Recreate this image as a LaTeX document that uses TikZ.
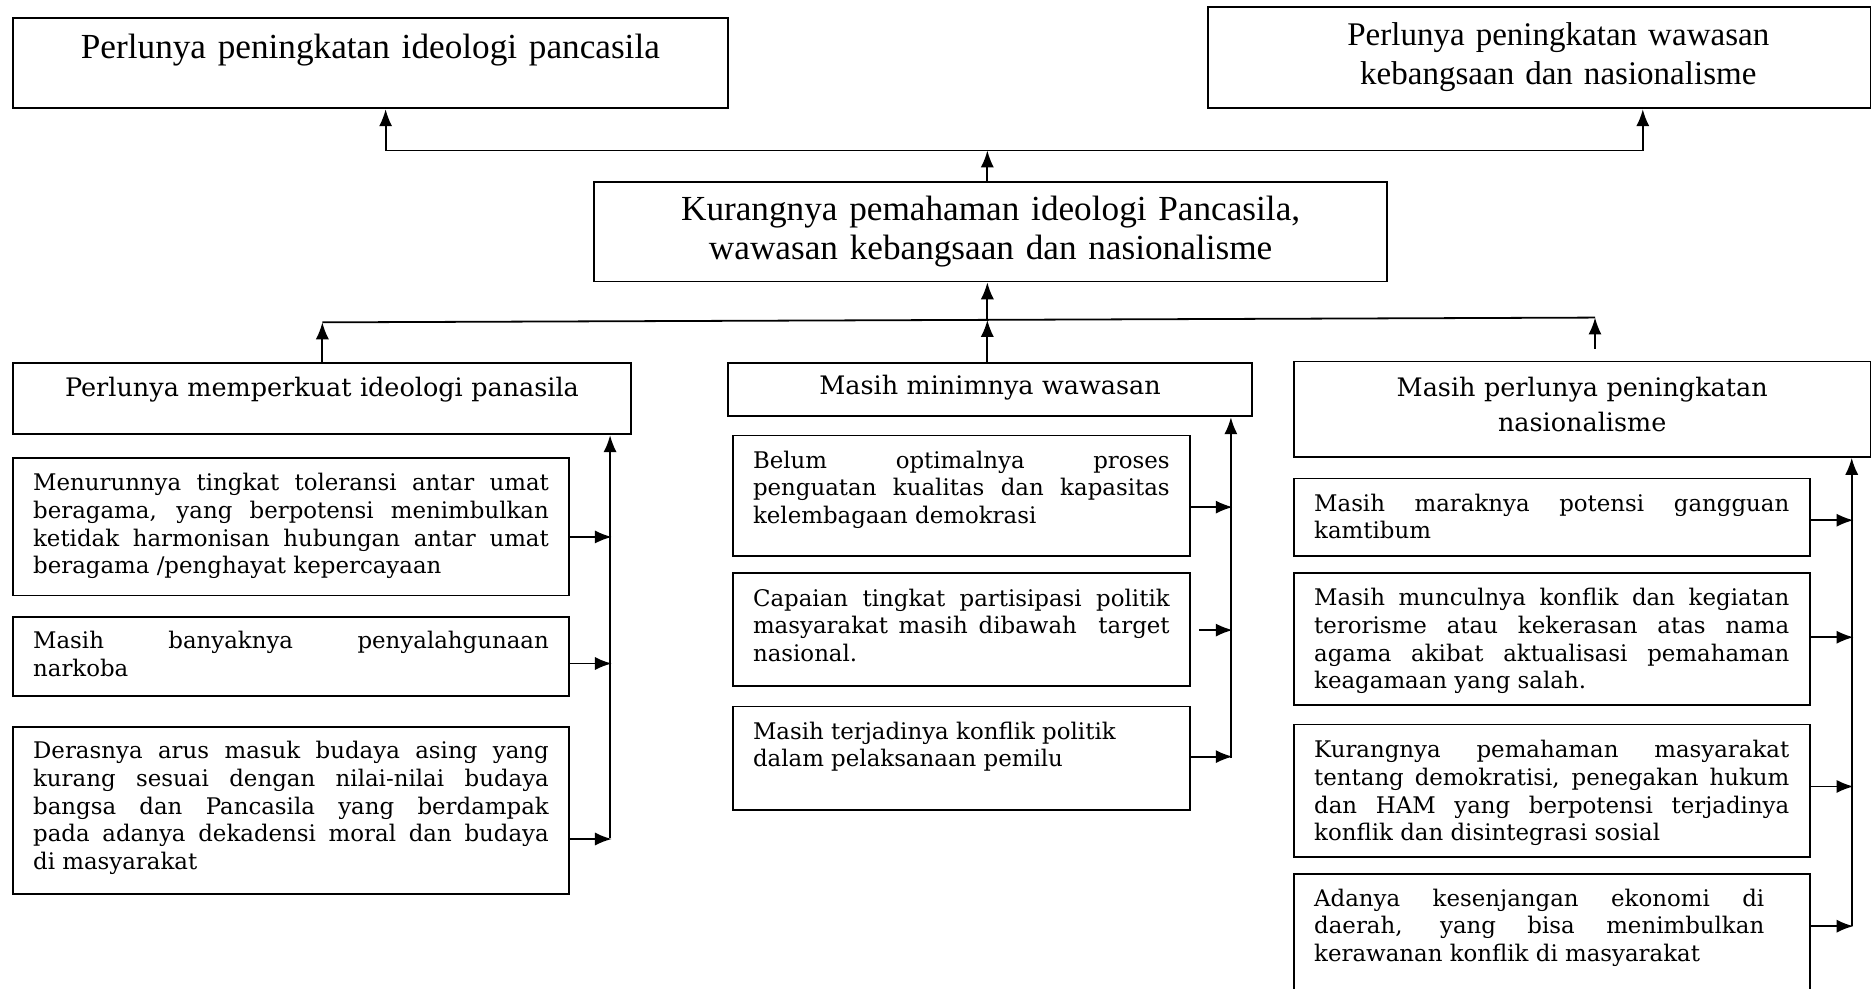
\documentclass[tikz,border=0pt]{standalone}
\usepackage{fontspec}
\setmainfont{DejaVu Serif}
\newfontfamily\headfont{Liberation Serif}
\usepackage{tikz}
\usetikzlibrary{arrows.meta}

\begin{document}
\begin{tikzpicture} [
    x = 0.6pt, y = -0.6pt,
    line width = 0.9pt,
    >= {Latex[length=8.5pt, width=6.6pt]},
    box/.style = { draw, anchor = north west, inner xsep = 10.2pt, inner ysep = 0pt },
    headbox/.style = { box, align = center, font = {\headfont\fontsize{17.7}{19.4}\selectfont} },
    sidebox/.style = { box, align = center, font = {\fontsize{12.8}{17.6}\selectfont} },
    itembox/.style = { box, align = justify, font = {\fontsize{11.5}{13.9}\selectfont} }
    ]
    \useasboundingbox (0,0) rectangle (1568,828);

    % top row
    \node [headbox, text width = 339pt, text height = 20.4pt, text depth = 25.2pt] (pid) at (10,14)
      {Perlunya peningkatan ideologi pancasila};
    \node [headbox, align = right, font = {\headfont\fontsize{16.6}{19.4}\selectfont},
           text width = 312.6pt, text height = 19.4pt, text depth = 31.6pt] (pwk) at (1011,5)
      {\parbox[t]{293.4pt}{\centering Perlunya peningkatan wawasan\\ kebangsaan dan nasionalisme}};
    \node [headbox, text width = 378pt, text height = 19.4pt, text depth = 30.4pt] (kurang) at (497,152)
      {Kurangnya pemahaman ideologi Pancasila,\\ wawasan kebangsaan dan nasionalisme};

    % second row
    \node [sidebox, text width = 290.4pt, text height = 17pt, text depth = 19pt] (ideo) at (10,303)
      {Perlunya memperkuat ideologi panasila};
    \node [sidebox, text width = 243pt, text height = 15.9pt, text depth = 11.1pt] (wawasan) at (609,303)
      {Masih minimnya wawasan};
    \node [sidebox, text width = 269.4pt, text height = 17.6pt, text depth = 30.4pt] (nasion) at (1083,302)
      {Masih perlunya peningkatan\\ nasionalisme};

    % left column
    \node [itembox, text width = 259.2pt, text height = 16.5pt, text depth = 52.5pt] (ideo1) at (10,383)
      {Menurunnya tingkat toleransi antar umat\linebreak beragama, yang berpotensi menimbulkan\linebreak
       ketidak harmonisan hubungan antar umat\linebreak beragama /penghayat kepercayaan};
    \node [itembox, text width = 259.2pt, text height = 16.1pt, text depth = 23.5pt] (ideo2) at (10,516)
      {Masih banyaknya penyalahgunaan\linebreak narkoba};
    \node [itembox, text width = 259.2pt, text height = 16.1pt, text depth = 67.9pt] (ideo3) at (10,608)
      {Derasnya arus masuk budaya asing yang\linebreak kurang sesuai dengan nilai-nilai budaya\linebreak
       bangsa dan Pancasila yang berdampak\linebreak pada adanya dekadensi moral dan budaya\linebreak di masyarakat};

    % middle column
    \node [itembox, text width = 209.4pt, text height = 16.4pt, text depth = 44.2pt] (waw1) at (613,364)
      {Belum optimalnya proses\linebreak penguatan kualitas dan kapasitas\linebreak kelembagaan demokrasi};
    \node [itembox, text width = 209.4pt, text height = 16.7pt, text depth = 40.3pt] (waw2) at (613,479)
      {Capaian tingkat partisipasi politik\linebreak masyarakat masih dibawah\ \ target\linebreak nasional.};
    \node [itembox, text width = 209.4pt, text height = 16.5pt, text depth = 35.7pt] (waw3) at (613,591)
      {Masih terjadinya konflik politik\\ dalam pelaksanaan pemilu};

    % right column
    \node [itembox, text width = 238.8pt, text height = 16.4pt, text depth = 22.6pt] (nas1) at (1083,400)
      {Masih maraknya potensi gangguan\linebreak kamtibum};
    \node [itembox, text width = 238.8pt, text height = 16.6pt, text depth = 50pt] (nas2) at (1083,479)
      {Masih munculnya konflik dan kegiatan\linebreak terorisme atau kekerasan atas nama\linebreak
       agama akibat aktualisasi pemahaman\linebreak keagamaan yang salah.};
    \node [itembox, text width = 238.8pt, text height = 16.8pt, text depth = 49.8pt] (nas3) at (1083,606)
      {Kurangnya pemahaman masyarakat\linebreak tentang demokratisi, penegakan hukum\linebreak
       dan HAM yang berpotensi terjadinya\linebreak konflik dan disintegrasi sosial};
    \node [itembox, text width = 238.8pt, text height = 16.4pt, text depth = 55pt] (nas4) at (1083,731)
      {\parbox[t]{226.2pt}{Adanya kesenjangan ekonomi di\linebreak daerah, yang bisa menimbulkan\linebreak
       kerawanan konflik di masyarakat}};

    % links to the top row
    \coordinate (tl) at (323,126);
    \coordinate (tm) at (827,126);
    \coordinate (tr) at (1376,126);
    \draw [<->] (tl |- pid.south) -- (tl) -- (tr) -- (tr |- pwk.south);
    \draw [->] (tm |- kurang.north) -- (tm);

    % links to the middle box
    \coordinate (ml) at (270,270);
    \coordinate (mm) at (827,268);
    \coordinate (mr) at (1336,266);
    \draw (ml) -- (mr);
    \draw [->] (mm) -- (mm |- kurang.south);
    \draw [->] (ml |- ideo.north) -- (ml);
    \draw [->] (mm |- wawasan.north) -- (mm);
    \draw [->] (mr) ++(0,26) -- (mr);

    % spines of the three columns
    \coordinate (ls) at (511,702);
    \coordinate (ms) at (1031,635);
    \coordinate (rs) at (1551,776);
    \draw [->] (ls) -- (ls |- ideo.south);
    \draw [->] (ms) -- (ms |- wawasan.south);
    \draw [->] (rs) -- (rs |- nasion.south);
    \foreach \n/\dy in {ideo1/8.5, ideo2/6, ideo3/24}
      \draw [->] (\n.east) ++(0,\dy) -- ++(35,0);
    \foreach \n/\dx/\dy in {waw1/0/9.5, waw2/7/0.5, waw3/0/-1.5}
      \draw [->] (\n.east) ++(\dx,\dy) -- ++(35-\dx,0);
    \foreach \n/\dy in {nas1/2.5, nas2/-1.5, nas3/-3.5, nas4/-15.5}
      \draw [->] (\n.east) ++(0,\dy) -- ++(36,0);
\end{tikzpicture}
\end{document}
